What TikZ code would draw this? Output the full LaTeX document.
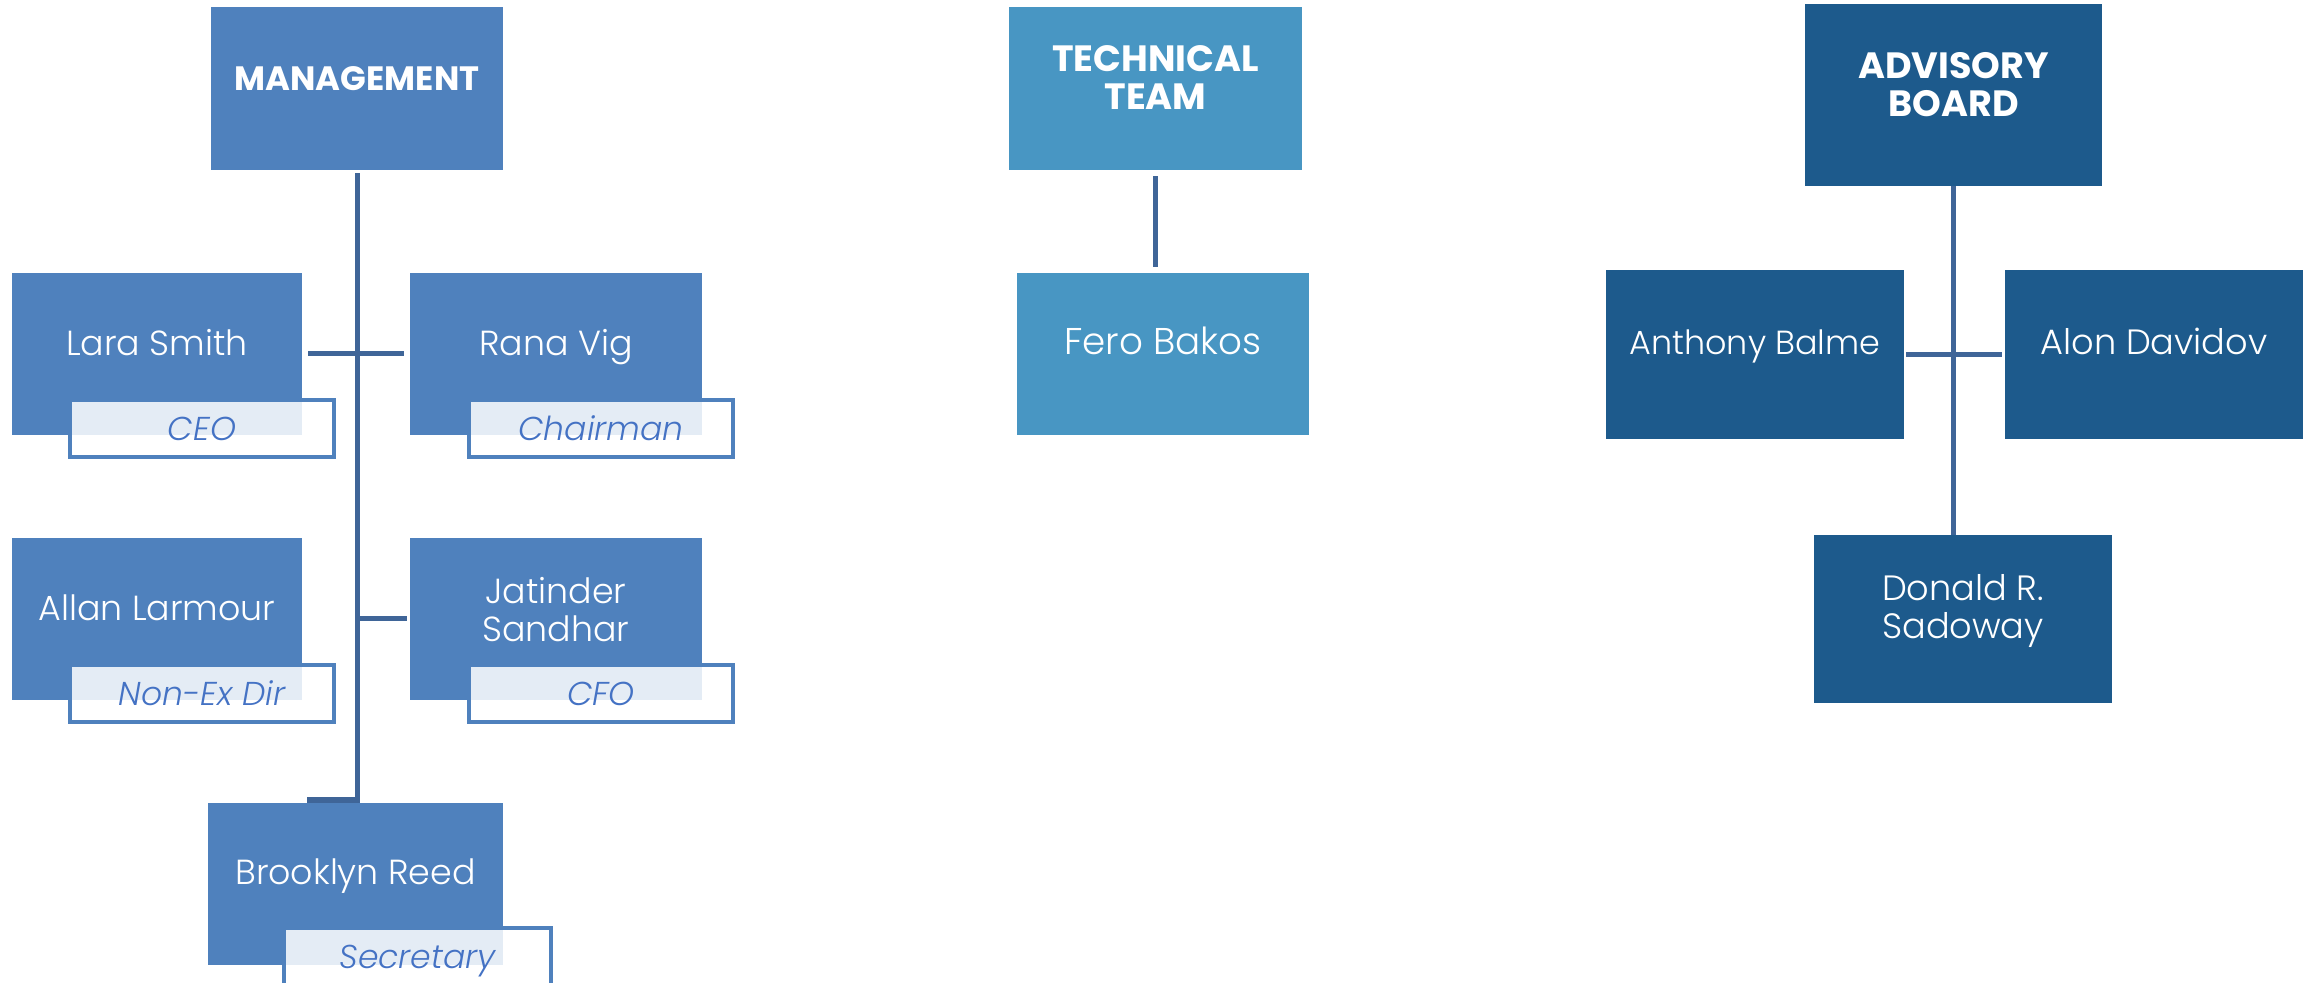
\documentclass[tikz,border=0pt]{standalone}
\usepackage{fontspec}
\IfFontExistsTF{Poppins Light}{%
  \setmainfont{Poppins}[UprightFont={* Light},ItalicFont={* Light Italic},BoldFont={* Bold}]%
}{\setmainfont{Poppins}}
\definecolor{mgmtblue}{HTML}{4F81BD}
\definecolor{techblue}{HTML}{4896C3}
\definecolor{advblue}{HTML}{1D5A8C}
\definecolor{connblue}{HTML}{3F6598}
\definecolor{roleline}{HTML}{4F81BD}
\definecolor{roletext}{HTML}{4472C4}
\tikzset{
  orgbox/.style={rectangle, draw=none, inner sep=0pt, outer sep=0pt},
  headtext/.style={text=white, font=\fontsize{10.4}{10.8}\selectfont\bfseries, align=center, inner sep=0pt},
  nametext/.style={text=white, font=\fontsize{9.9}{10.8}\selectfont, align=center, inner sep=0pt},
  oneline/.style={text height=6.9pt, text depth=0pt},
  rolebox/.style={rectangle, draw=roleline, line width=0.04cm, fill=white, fill opacity=0.85,
    draw opacity=1, text opacity=1, text=roletext, font=\fontsize{9.4}{11}\selectfont\itshape,
    minimum width=2.64cm, minimum height=0.57cm, inner sep=0pt, text height=6.6pt, text depth=0pt},
  conn/.style={draw=connblue, line width=0.05cm}
}
\begin{document}
\begin{tikzpicture}[x=0.01cm,y=-0.01cm]
\useasboundingbox (0,0) rectangle (2313,983);
% ---- Management ----
\node[orgbox, fill=mgmtblue, minimum width=2.92cm, minimum height=1.63cm] (mgmt) at (357,88.5) {};
\node[headtext, font=\fontsize{9.6}{10.8}\selectfont\bfseries, oneline] (mgmtT) at ([yshift=0.105cm]mgmt.center) {MANAGEMENT};
\node[orgbox, fill=mgmtblue, minimum width=2.90cm, minimum height=1.62cm] (lara) at (157,354) {};
\node[orgbox, fill=mgmtblue, minimum width=2.92cm, minimum height=1.62cm] (rana) at (556,354) {};
\node[orgbox, fill=mgmtblue, minimum width=2.90cm, minimum height=1.62cm] (allan) at (157,619) {};
\node[orgbox, fill=mgmtblue, minimum width=2.92cm, minimum height=1.62cm] (jat) at (556,619) {};
\node[orgbox, fill=mgmtblue, minimum width=2.95cm, minimum height=1.62cm] (brook) at (355.5,884) {};
\node[nametext, oneline] (laraT) at ([yshift=0.11cm]lara.center) {Lara Smith};
\node[nametext, oneline] (ranaT) at ([yshift=0.105cm]rana.center) {Rana Vig};
\node[nametext, oneline] (allanT) at ([yshift=0.105cm]allan.center) {Allan Larmour};
\node[nametext] (jatT) at ([yshift=0.09cm]jat.center) {Jatinder\\Sandhar};
\node[nametext, oneline] (brookT) at ([yshift=0.12cm]brook.center) {Brooklyn Reed};
\node[rolebox] (ceo) at (202,428.5) {CEO};
\node[rolebox] (chair) at (601,428.5) {Chairman};
\node[rolebox] (nonex) at (202,693.5) {Non-Ex Dir};
\node[rolebox] (cfo) at (601,693.5) {CFO};
\node[rolebox, minimum width=2.67cm] (secr) at (417.5,956.5) {Secretary};
\coordinate (brooktop) at (307,800);
\draw[conn, shorten <=0.03cm] (mgmt.south) -- (mgmt.south |- brooktop) -- (brooktop);
\draw[conn, shorten <=0.06cm, shorten >=0.06cm] (lara.east) -- (rana.west);
\draw[conn, shorten >=0.03cm] (mgmt.south |- jat.west) -- (jat.west);
% ---- Technical team ----
\node[orgbox, fill=techblue, minimum width=2.93cm, minimum height=1.63cm] (tech) at (1155.5,88.5) {};
\node[headtext] (techT) at ([yshift=0.11cm]tech.center) {TECHNICAL\\TEAM};
\node[orgbox, fill=techblue, minimum width=2.92cm, minimum height=1.62cm] (fero) at (1163,354) {};
\node[nametext, font=\fontsize{10.6}{10.8}\selectfont, oneline] (feroT) at ([yshift=0.115cm]fero.center) {Fero Bakos};
\draw[conn, shorten <=0.06cm, shorten >=0.06cm] (tech.south) -- (tech.south |- fero.north);
% ---- Advisory board ----
\node[orgbox, fill=advblue, minimum width=2.97cm, minimum height=1.82cm] (adv) at (1953.5,95) {};
\node[headtext] (advT) at ([yshift=0.10cm]adv.center) {ADVISORY\\BOARD};
\node[orgbox, fill=advblue, minimum width=2.98cm, minimum height=1.69cm] (anth) at (1755,354.5) {};
\node[orgbox, fill=advblue, minimum width=2.98cm, minimum height=1.69cm] (alon) at (2154,354.5) {};
\node[orgbox, fill=advblue, minimum width=2.98cm, minimum height=1.68cm] (don) at (1963,619) {};
\node[nametext, font=\fontsize{9.5}{10.8}\selectfont, oneline] (anthT) at ([yshift=0.12cm]anth.center) {Anthony Balme};
\node[nametext, font=\fontsize{10}{10.8}\selectfont, oneline] (alonT) at ([yshift=0.12cm]alon.center) {Alon Davidov};
\node[nametext, font=\fontsize{10}{10.8}\selectfont] (donT) at ([yshift=0.08cm]don.center) {Donald R.\\Sadoway};
\draw[conn] (adv.south) -- (adv.south |- don.north);
\draw[conn, shorten <=0.02cm, shorten >=0.03cm] (anth.east) -- (alon.west);
\end{tikzpicture}
\end{document}
